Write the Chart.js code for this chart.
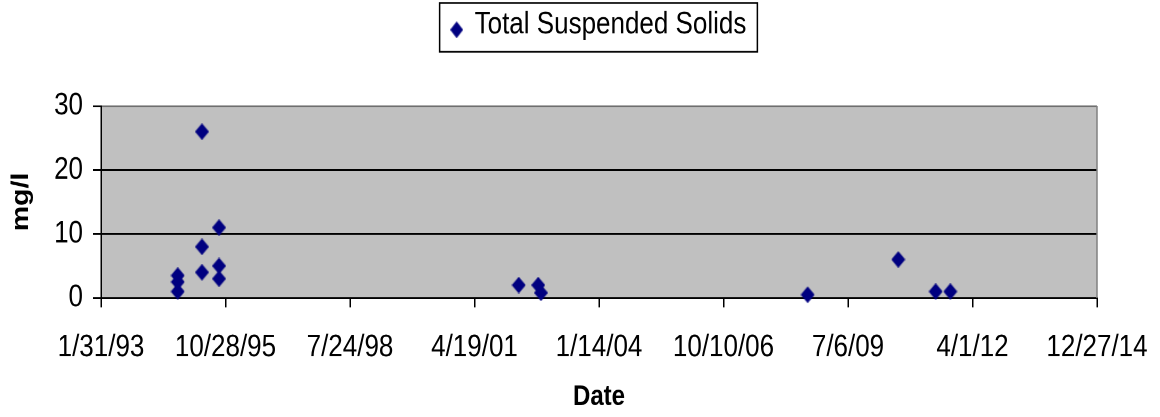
<!DOCTYPE html>
<html>
<head>
<meta charset="utf-8">
<script src="https://cdn.jsdelivr.net/npm/chart.js@4/dist/chart.umd.min.js"></script>
<style>
  html, body { margin: 0; padding: 0; background: #fff; overflow: hidden; }
  #page { width: 1160px; height: 417px; position: relative; }
  /* the original picture is stretched vertically, so draw at 350px and stretch to 417px */
  #wrap { width: 1160px; height: 350px; transform: scaleY(1.19143); transform-origin: 0 0; }
</style>
</head>
<body>
<div id="page"><div id="wrap"><canvas id="tssChart"></canvas></div></div>
<script>
// sample dates and Total Suspended Solids (mg/l)
const sampleDates = [
    '1994-10-09', '1994-10-09', '1994-10-09',
    '1995-04-22', '1995-04-22', '1995-04-22',
    '1995-09-06', '1995-09-06', '1995-09-06',
    '2002-04-09', '2002-09-13', '2002-10-05',
    '2008-08-16', '2010-08-14', '2011-06-10', '2011-10-06'
];
const tssValues = [
    3.5, 2.5, 1,
    26, 8, 4,
    11, 5, 3,
    2, 2, 0.8,
    0.5, 6, 1, 1
];
const seriesLabel = 'Total Suspended Solids';
const xTitle = 'Date';
const yTitle = 'mg/l';
const xStart = '1993-01-31';   // first date tick, then every 1000 days
const xStepDays = 1000;
const xTickCount = 8;
const yMax = 30;
const yStep = 10;

const DAY = 86400000;
const toDays = s => Date.parse(s + 'T00:00:00Z') / DAY;
const fmtDate = d => {
    const dt = new Date(d * DAY);
    return (dt.getUTCMonth() + 1) + '/' + dt.getUTCDate() + '/' + String(dt.getUTCFullYear()).slice(2);
};

const points = sampleDates.map((d, i) => ({ x: toDays(d), y: tssValues[i] }));

// diamond marker, optionally drawn a few px lower than its centre
function diamond(w, h, offsetY) {
    const c = document.createElement('canvas');
    c.width = w;
    c.height = h + Math.abs(offsetY) * 2;
    const g = c.getContext('2d');
    const cy = c.height / 2 + offsetY;
    g.fillStyle = '#000080';
    g.beginPath();
    g.moveTo(w / 2, cy - h / 2);
    g.lineTo(w, cy);
    g.lineTo(w / 2, cy + h / 2);
    g.lineTo(0, cy);
    g.closePath();
    g.fill();
    return c;
}
const marker = diamond(14, 14, 0);
const legendMarker = diamond(13, 14, 4);

const tickFont = { family: "'Liberation Sans', Arial, sans-serif", size: 26 };

const plotArea = {
    id: 'plotArea',
    beforeDraw(chart) {
        const a = chart.chartArea;
        const ctx = chart.ctx;
        ctx.save();
        ctx.fillStyle = '#c0c0c0';
        ctx.fillRect(a.left, a.top, a.right - a.left, a.bottom - a.top);
        ctx.restore();
    },
    beforeDatasetsDraw(chart) {
        const a = chart.chartArea;
        const ctx = chart.ctx;
        ctx.save();
        ctx.strokeStyle = '#808080';
        ctx.lineWidth = 1.5;
        ctx.beginPath();
        ctx.moveTo(a.right, a.top);
        ctx.lineTo(a.right, a.bottom);
        ctx.stroke();
        ctx.restore();
    },
    afterDraw(chart) {
        const lg = chart.legend;
        if (!lg || !lg.legendHitBoxes.length) return;
        const hb = lg.legendHitBoxes[0];
        const ctx = chart.ctx;
        ctx.save();
        ctx.strokeStyle = '#000';
        ctx.lineWidth = 1.5;
        ctx.strokeRect(hb.left - 12, lg.top + 2.5, hb.width + 23, 41);
        ctx.restore();
    }
};

const x0 = toDays(xStart);

new Chart(document.getElementById('tssChart'), {
    type: 'scatter',
    data: {
        datasets: [{
            label: seriesLabel,
            data: points,
            pointStyle: marker,
            backgroundColor: '#000080',
            borderColor: '#000080',
            clip: false
        }]
    },
    options: {
        responsive: true,
        maintainAspectRatio: false,
        animation: false,
        devicePixelRatio: 2,
        layout: { padding: { left: 0, right: 63, top: 0, bottom: 0 } },
        plugins: {
            legend: {
                position: 'top',
                fullSize: false,
                labels: {
                    usePointStyle: true,
                    pointStyle: legendMarker,
                    boxWidth: 10,
                    color: '#000',
                    font: tickFont,
                    padding: 8
                }
            },
            // blank title, only used as the gap between legend and plot
            title: {
                display: true,
                text: ' ',
                weight: 500,
                font: { size: 10 },
                padding: { top: 0, bottom: 33 }
            },
            tooltip: { enabled: true }
        },
        scales: {
            x: {
                type: 'linear',
                min: x0,
                max: x0 + xStepDays * xTickCount,
                afterFit: s => {
                    s.height = 100;
                    s.paddingLeft = 0;
                    s.paddingRight = 0;
                },
                ticks: {
                    stepSize: xStepDays,
                    autoSkip: false,
                    maxRotation: 0,
                    color: '#000',
                    font: tickFont,
                    padding: 18,
                    callback: v => fmtDate(v)
                },
                grid: {
                    drawOnChartArea: false,
                    drawTicks: true,
                    tickLength: 8,
                    color: '#000',
                    lineWidth: 1.5
                },
                border: { display: true, color: '#000', width: 1.5 },
                title: {
                    display: true,
                    text: xTitle,
                    color: '#000',
                    font: { family: "'Liberation Sans', Arial, sans-serif", size: 24, weight: 'bold' },
                    padding: { top: 0, bottom: 2 }
                }
            },
            y: {
                min: 0,
                max: yMax,
                afterFit: s => { s.width = 101; },
                ticks: {
                    stepSize: yStep,
                    color: '#000',
                    font: tickFont,
                    padding: 10
                },
                grid: {
                    color: c => (c.tick && c.tick.value === yMax) ? '#6e6e6e' : '#000',
                    tickColor: '#000',
                    tickLength: 8,
                    lineWidth: 1.5
                },
                border: { display: true, color: '#000', width: 1.5 },
                title: {
                    display: true,
                    text: yTitle,
                    color: '#000',
                    font: { family: "'Liberation Sans', Arial, sans-serif", size: 24, weight: 'bold' },
                    padding: { top: 7, bottom: 0 }
                }
            }
        }
    },
    plugins: [plotArea]
});
</script>
</body>
</html>
